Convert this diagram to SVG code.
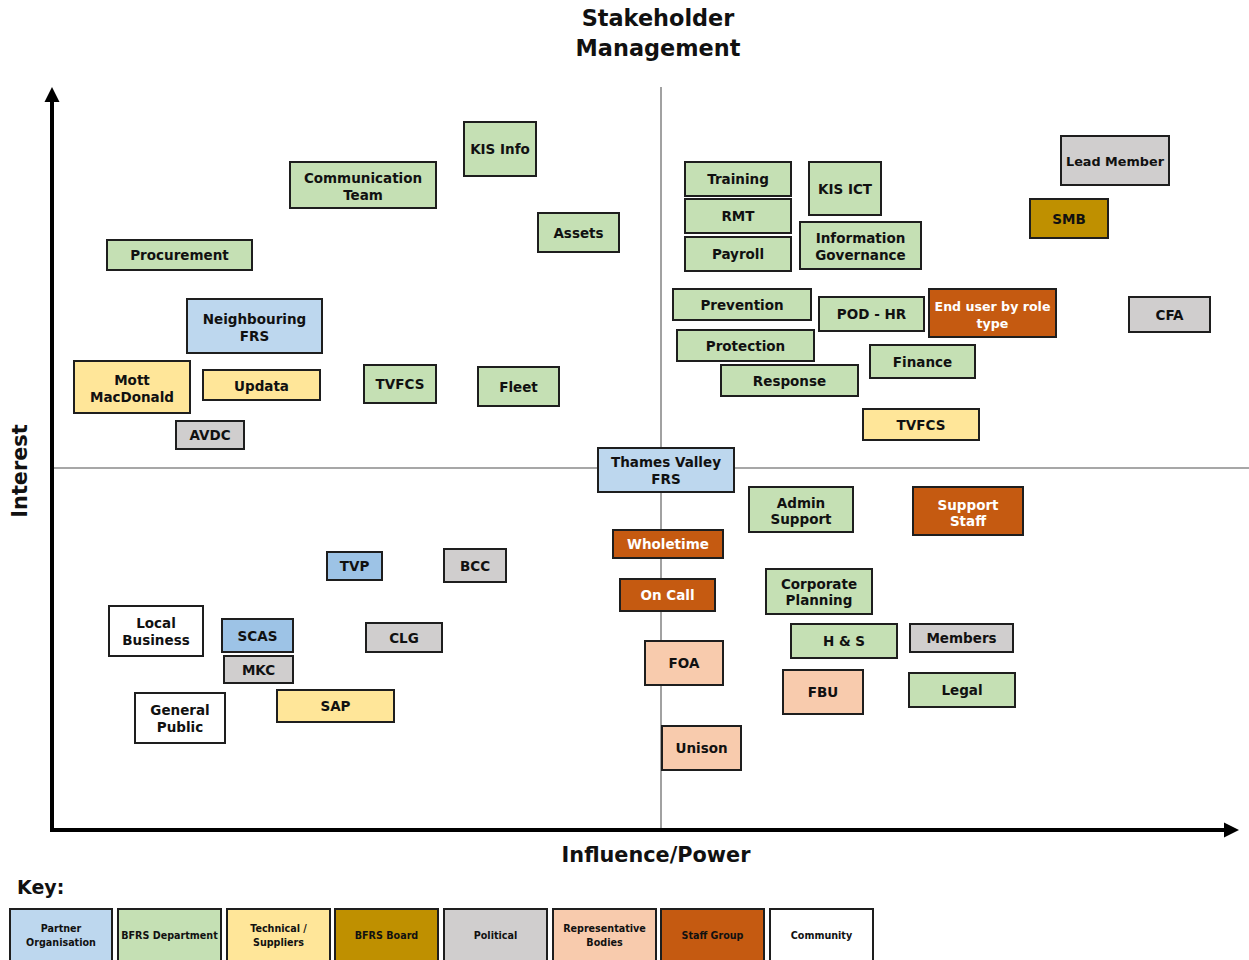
<svg xmlns="http://www.w3.org/2000/svg" width="1249" height="960" viewBox="0 0 1249 960">
<style>
text{font-family:"DejaVu Sans","Liberation Sans",sans-serif;font-weight:bold;fill:#111;text-anchor:middle}
.n rect{stroke:#1e1e1e;stroke-width:2}
.n text{font-size:13.5px}
.g{fill:#C5E0B4}.b{fill:#BDD7EE}.db{fill:#9DC3E6}.y{fill:#FFE699}.p{fill:#D0CECE}
.gold{fill:#BF9000}.pe{fill:#F8CBAD}.o{fill:#C55A11}.w{fill:#FFFFFF}
.wt{fill:#FFFFFF}
.k rect{stroke:#1e1e1e;stroke-width:2}
.k text{font-size:9.6px}
.title{font-size:22.4px}
.ax{font-size:20.8px}
</style>
<defs>
<marker id="ah" markerUnits="userSpaceOnUse" markerWidth="16" markerHeight="16" refX="1" refY="8" orient="auto">
<path d="M0,0.5 L15,8 L0,15.5 Z" fill="#000"/>
</marker>
</defs>
<rect width="1249" height="960" fill="#fff"/>
<g id="title">
<text class="title" x="658" y="26">Stakeholder</text>
<text class="title" x="658" y="56">Management</text>
</g>
<g id="connectors">
<line x1="661" y1="87" x2="661" y2="830" stroke="#8a8a8a" stroke-width="1.6"/>
<line x1="54" y1="468" x2="1249" y2="468" stroke="#8a8a8a" stroke-width="1.6"/>
<line x1="52" y1="832" x2="52" y2="101" stroke="#000" stroke-width="4" marker-end="url(#ah)"/>
<line x1="50" y1="830" x2="1225" y2="830" stroke="#000" stroke-width="4" marker-end="url(#ah)"/>
</g>
<text class="ax" transform="translate(27,471) rotate(-90)">Interest</text>
<text class="ax" x="656" y="862">Influence/Power</text>

<g id="kis-info" class="n"><rect class="g" x="464" y="122" width="72" height="54"/><text x="500" y="154">KIS Info</text></g>
<g id="communication-team" class="n"><rect class="g" x="290" y="162" width="146" height="46"/><text x="363" y="183">Communication</text><text x="363" y="199.5">Team</text></g>
<g id="assets" class="n"><rect class="g" x="538" y="213" width="81" height="39"/><text x="578.5" y="237.5">Assets</text></g>
<g id="procurement" class="n"><rect class="g" x="107" y="240" width="145" height="30"/><text x="179.5" y="260">Procurement</text></g>
<g id="neighbouring-frs" class="n"><rect class="b" x="187" y="299" width="135" height="54"/><text x="254.5" y="324">Neighbouring</text><text x="254.5" y="340.5">FRS</text></g>
<g id="mott-macdonald" class="n"><rect class="y" x="74" y="361" width="116" height="52"/><text x="132" y="385">Mott</text><text x="132" y="401.5">MacDonald</text></g>
<g id="updata" class="n"><rect class="y" x="203" y="370" width="117" height="30"/><text x="261.5" y="390.5">Updata</text></g>
<g id="tvfcs-left" class="n"><rect class="g" x="364" y="365" width="72" height="38"/><text x="400" y="389">TVFCS</text></g>
<g id="fleet" class="n"><rect class="g" x="478" y="367" width="81" height="39"/><text x="518.5" y="391.5">Fleet</text></g>
<g id="avdc" class="n"><rect class="p" x="176" y="421" width="68" height="28"/><text x="210" y="440">AVDC</text></g>

<g id="training" class="n"><rect class="g" x="685" y="162" width="106" height="34"/><text x="738" y="184">Training</text></g>
<g id="rmt" class="n"><rect class="g" x="685" y="199" width="106" height="34"/><text x="738" y="221">RMT</text></g>
<g id="payroll" class="n"><rect class="g" x="685" y="237" width="106" height="34"/><text x="738" y="259">Payroll</text></g>
<g id="kis-ict" class="n"><rect class="g" x="809" y="162" width="72" height="53"/><text x="845" y="193.5">KIS ICT</text></g>
<g id="information-governance" class="n"><rect class="g" x="800" y="222" width="121" height="47"/><text x="860.5" y="243">Information</text><text x="860.5" y="259.5">Governance</text></g>
<g id="lead-member" class="n"><rect class="p" x="1061" y="136" width="108" height="49"/><text x="1115" y="166" style="font-size:12.8px">Lead Member</text></g>
<g id="smb" class="n"><rect class="gold" x="1030" y="199" width="78" height="39"/><text x="1069" y="223.5">SMB</text></g>
<g id="prevention" class="n"><rect class="g" x="673" y="289" width="138" height="31"/><text x="742" y="309.5">Prevention</text></g>
<g id="pod-hr" class="n"><rect class="g" x="819" y="297" width="105" height="34"/><text x="871.5" y="319">POD - HR</text></g>
<g id="end-user-by-role-type" class="n"><rect class="o" x="929" y="289" width="127" height="48"/><text class="wt" x="992.5" y="311" style="font-size:12.6px">End user by role</text><text class="wt" x="992.5" y="327.5" style="font-size:12.6px">type</text></g>
<g id="cfa" class="n"><rect class="p" x="1129" y="297" width="81" height="35"/><text x="1169.5" y="319.5">CFA</text></g>
<g id="protection" class="n"><rect class="g" x="677" y="330" width="137" height="31"/><text x="745.5" y="350.5">Protection</text></g>
<g id="finance" class="n"><rect class="g" x="870" y="345" width="105" height="33"/><text x="922.5" y="366.5">Finance</text></g>
<g id="response" class="n"><rect class="g" x="721" y="365" width="137" height="31"/><text x="789.5" y="385.5">Response</text></g>
<g id="tvfcs-right" class="n"><rect class="y" x="863" y="409" width="116" height="31"/><text x="921" y="429.5">TVFCS</text></g>

<g id="thames-valley-frs" class="n"><rect class="b" x="598" y="448" width="136" height="44"/><text x="666" y="467">Thames Valley</text><text x="666" y="483.5">FRS</text></g>
<g id="admin-support" class="n"><rect class="g" x="749" y="487" width="104" height="45"/><text x="801" y="507.5">Admin</text><text x="801" y="524">Support</text></g>
<g id="support-staff" class="n"><rect class="o" x="913" y="487" width="110" height="48"/><text class="wt" x="968" y="509.5">Support</text><text class="wt" x="968" y="526">Staff</text></g>
<g id="wholetime" class="n"><rect class="o" x="613" y="530" width="110" height="28"/><text class="wt" x="668" y="549">Wholetime</text></g>
<g id="on-call" class="n"><rect class="o" x="620" y="579" width="95" height="32"/><text class="wt" x="667.5" y="600">On Call</text></g>
<g id="corporate-planning" class="n"><rect class="g" x="766" y="569" width="106" height="45"/><text x="819" y="588.5">Corporate</text><text x="819" y="605">Planning</text></g>
<g id="h-and-s" class="n"><rect class="g" x="791" y="624" width="106" height="34"/><text x="844" y="646">H &amp; S</text></g>
<g id="members" class="n"><rect class="p" x="910" y="624" width="103" height="28"/><text x="961.5" y="643">Members</text></g>
<g id="foa" class="n"><rect class="pe" x="645" y="641" width="78" height="44"/><text x="684" y="668">FOA</text></g>
<g id="fbu" class="n"><rect class="pe" x="783" y="670" width="80" height="44"/><text x="823" y="697">FBU</text></g>
<g id="legal" class="n"><rect class="g" x="909" y="673" width="106" height="34"/><text x="962" y="695">Legal</text></g>
<g id="unison" class="n"><rect class="pe" x="662" y="726" width="79" height="44"/><text x="701.5" y="753">Unison</text></g>

<g id="tvp" class="n"><rect class="db" x="327" y="552" width="55" height="28"/><text x="354.5" y="571">TVP</text></g>
<g id="bcc" class="n"><rect class="p" x="444" y="549" width="62" height="33"/><text x="475" y="570.5">BCC</text></g>
<g id="local-business" class="n"><rect class="w" x="109" y="606" width="94" height="50"/><text x="156" y="628">Local</text><text x="156" y="644.5">Business</text></g>
<g id="scas" class="n"><rect class="db" x="222" y="619" width="71" height="33"/><text x="257.5" y="640.5">SCAS</text></g>
<g id="mkc" class="n"><rect class="p" x="224" y="656" width="69" height="27"/><text x="258.5" y="674.5">MKC</text></g>
<g id="clg" class="n"><rect class="p" x="366" y="623" width="76" height="29"/><text x="404" y="642.5">CLG</text></g>
<g id="general-public" class="n"><rect class="w" x="135" y="693" width="90" height="50"/><text x="180" y="715">General</text><text x="180" y="731.5">Public</text></g>
<g id="sap" class="n"><rect class="y" x="277" y="690" width="117" height="32"/><text x="335.5" y="711">SAP</text></g>

<text x="17" y="894" style="font-size:19px;text-anchor:start">Key:</text>
<g id="key" class="k">
<g id="key-partner"><rect class="b" x="10" y="909" width="102" height="55"/><text x="61" y="932">Partner</text><text x="61" y="945.5">Organisation</text></g>
<g id="key-department"><rect class="g" x="118" y="909" width="103" height="55"/><text x="169.5" y="939">BFRS Department</text></g>
<g id="key-technical"><rect class="y" x="227" y="909" width="103" height="55"/><text x="278.5" y="932">Technical /</text><text x="278.5" y="945.5">Suppliers</text></g>
<g id="key-board"><rect class="gold" x="335" y="909" width="103" height="55"/><text x="386.5" y="939">BFRS Board</text></g>
<g id="key-political"><rect class="p" x="444" y="909" width="103" height="55"/><text x="495.5" y="939">Political</text></g>
<g id="key-representative"><rect class="pe" x="553" y="909" width="103" height="55"/><text x="604.5" y="932">Representative</text><text x="604.5" y="945.5">Bodies</text></g>
<g id="key-staff"><rect class="o" x="661" y="909" width="103" height="55"/><text x="712.5" y="939">Staff Group</text></g>
<g id="key-community"><rect class="w" x="770" y="909" width="103" height="55"/><text x="821.5" y="939">Community</text></g>
</g>
</svg>
